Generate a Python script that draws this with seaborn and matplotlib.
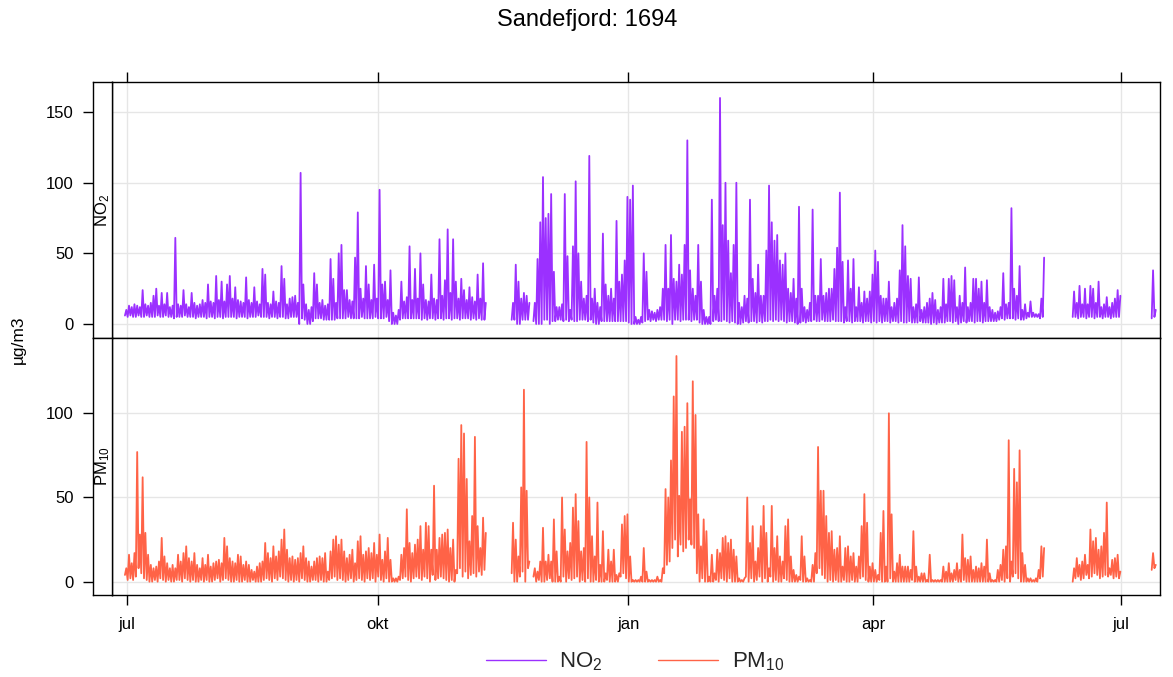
import numpy as np
import pandas as pd
import matplotlib
matplotlib.use("Agg")
import matplotlib.pyplot as plt
import seaborn as sns
from matplotlib.lines import Line2D

NA = np.nan

# ---------------- data (daily low / daily high) ----------------
title = "Sandefjord: 1694"
y_label = "µg/m3"
pollutants = ["NO$_2$", "PM$_{10}$"]
colours = ["#9B30FF", "#FF6347"]
first_day = "2020-06-30"
tick_dates = ["2020-07-01", "2020-10-01", "2021-01-01", "2021-04-01", "2021-07-01"]
tick_labels = ["jul", "okt", "jan", "apr", "jul"]
no2_ticks = [0, 50, 100, 150]
pm10_ticks = [0, 50, 100]

no2_max = [
    10, 13, 12, 14, 13, 12, 24, 14, 13, 15,
    20, 25, 13, 22, 14, 22, 12, 13, 61, 14,
    13, 24, 14, 12, 22, 15, 13, 14, 17, 15,
    28, 16, 15, 34, 17, 30, 16, 28, 34, 18,
    26, 17, 16, 15, 33, 17, 15, 26, 16, 14,
    39, 35, 15, 14, 23, 16, 15, 41, 32, 14,
    18, 19, 20, 15, 107, 28, 14, 10, 12, 36,
    28, 15, 17, 13, 14, 46, 32, 15, 50, 56,
    24, 24, 17, 16, 47, 79, 25, 18, 41, 28,
    17, 42, 18, 95, 28, 30, 17, 38, 8, 6,
    10, 30, 16, 19, 55, 17, 39, 18, 50, 28,
    17, 16, 35, 18, 17, 60, 20, 31, 67, 22,
    60, 30, 18, 32, 24, 17, 26, 19, 16, 35,
    18, 43, 15, NA, NA, NA, NA, NA, NA, NA,
    NA, NA, 15, 42, 30, 18, 22, 20, 15, NA,
    15, 46, 72, 104, 75, 78, 92, 37, 12, 12,
    14, 92, 48, 10, 55, 101, 50, 30, 18, 20,
    119, 18, 25, 15, 12, 64, 28, 20, 25, 18,
    73, 30, 35, 45, 90, 88, 98, 5, 3, 5,
    50, 37, 10, 9, 8, 10, 12, 25, 56, 25,
    63, 32, 30, 42, 35, 56, 130, 38, 25, 20,
    56, 30, 10, 5, 5, 88, 20, 25, 160, 70,
    100, 59, 36, 56, 100, 15, 12, 20, 18, 88,
    32, 22, 42, 20, 20, 52, 98, 72, 59, 63,
    45, 42, 50, 25, 22, 32, 18, 83, 25, 12,
    10, 15, 81, 20, 20, 46, 20, 22, 25, 25,
    39, 54, 93, 44, 12, 45, 25, 46, 12, 26,
    15, 23, 18, 23, 35, 52, 44, 20, 18, 18,
    30, 12, 15, 18, 38, 70, 55, 34, 32, 12,
    14, 33, 10, 12, 15, 18, 22, 17, 10, 12,
    32, 14, 32, 34, 31, 12, 20, 15, 40, 12,
    15, 32, 32, 25, 30, 15, 31, 12, 10, 8,
    9, 12, 36, 14, 15, 82, 25, 20, 41, 10,
    14, 8, 16, 8, 7, 7, 18, 47, NA, NA,
    NA, NA, NA, NA, NA, NA, NA, NA, 23, 15,
    27, 14, 25, 14, 27, 25, 15, 30, 12, 14,
    19, 12, 15, 18, 24, 20, NA, NA, NA, NA,
    NA, NA, NA, NA, NA, NA, NA, 38, 10,
]

no2_min = [
    6, 5, 6, 5, 5, 6, 5, 5, 6, 5,
    5, 5, 6, 5, 5, 6, 5, 5, 4, 5,
    5, 5, 6, 5, 5, 5, 4, 5, 5, 5,
    4, 5, 5, 4, 5, 5, 4, 5, 5, 5,
    5, 4, 5, 5, 5, 4, 5, 5, 5, 6,
    5, 5, 5, 4, 5, 5, 4, 5, 5, 4,
    4, 5, 5, 5, 0, 4, 3, 0, 0, 2,
    4, 4, 4, 3, 3, 3, 3, 3, 4, 4,
    4, 4, 5, 4, 4, 4, 4, 5, 4, 4,
    4, 4, 5, 4, 4, 4, 5, 2, 0, 0,
    0, 3, 4, 4, 4, 4, 4, 4, 4, 3,
    4, 3, 4, 4, 3, 4, 4, 3, 4, 4,
    3, 4, 4, 3, 4, 4, 4, 3, 4, 3,
    4, 3, 3, NA, NA, NA, NA, NA, NA, NA,
    NA, NA, 3, 3, 0, 0, 3, 3, 3, NA,
    2, 0, 0, 0, 3, 3, 0, 2, 2, 3,
    3, 2, 3, 2, 3, 2, 2, 3, 3, 3,
    2, 3, 1, 0, 0, 2, 2, 2, 2, 2,
    2, 2, 2, 2, 2, 1, 0, 0, 0, 0,
    1, 2, 3, 2, 3, 2, 3, 3, 3, 2,
    3, 0, 3, 3, 2, 3, 3, 3, 2, 3,
    3, 1, 0, 0, 0, 0, 2, 3, 2, 2,
    3, 2, 1, 2, 1, 0, 0, 1, 2, 1,
    2, 2, 1, 2, 1, 2, 2, 3, 2, 3,
    2, 3, 2, 1, 2, 2, 1, 0, 1, 2,
    1, 2, 2, 3, 2, 2, 3, 2, 2, 2,
    3, 2, 2, 2, 1, 2, 2, 1, 2, 2,
    2, 1, 2, 2, 1, 2, 1, 2, 1, 2,
    2, 1, 2, 2, 1, 2, 1, 1, 2, 1,
    1, 1, 2, 1, 1, 1, 0, 1, 0, 1,
    1, 1, 2, 2, 1, 2, 0, 1, 2, 1,
    2, 2, 1, 2, 2, 1, 2, 2, 2, 2,
    2, 3, 4, 3, 4, 4, 4, 3, 4, 3,
    3, 4, 5, 5, 5, 5, 4, 5, NA, NA,
    NA, NA, NA, NA, NA, NA, NA, NA, 5, 5,
    4, 5, 5, 4, 5, 5, 4, 5, 5, 4,
    5, 5, 4, 5, 5, 5, NA, NA, NA, NA,
    NA, NA, NA, NA, NA, NA, NA, 4, 5,
]

pm10_max = [
    8, 16, 11, 17, 77, 28, 62, 29, 16, 10,
    8, 9, 12, 26, 15, 11, 8, 10, 8, 16,
    12, 17, 21, 14, 12, 17, 10, 8, 14, 10,
    16, 9, 11, 12, 13, 11, 26, 21, 14, 12,
    11, 16, 15, 10, 12, 10, 7, 6, 9, 11,
    12, 23, 17, 14, 21, 15, 18, 25, 31, 19,
    14, 15, 13, 14, 17, 21, 14, 12, 9, 12,
    14, 15, 14, 17, 6, 18, 25, 27, 22, 25,
    18, 14, 16, 19, 11, 24, 27, 16, 18, 20,
    17, 23, 16, 28, 13, 18, 26, 13, 2, 2,
    3, 16, 20, 43, 23, 17, 22, 25, 33, 19,
    35, 33, 19, 57, 19, 26, 28, 29, 31, 20,
    25, 7, 73, 93, 88, 61, 24, 39, 86, 33,
    20, 38, 29, NA, NA, NA, NA, NA, NA, NA,
    NA, NA, 35, 25, 15, 56, 114, 54, 12, NA,
    8, 6, 12, 32, 12, 16, 12, 37, 18, 3,
    50, 31, 18, 23, 44, 52, 36, 18, 20, 83,
    50, 27, 15, 47, 10, 30, 5, 19, 12, 19,
    4, 5, 34, 39, 40, 15, 1, 1, 1, 3,
    20, 6, 1, 1, 1, 3, 1, 8, 55, 50,
    72, 110, 134, 51, 89, 92, 106, 49, 119, 99,
    40, 21, 37, 30, 3, 16, 5, 19, 17, 26,
    27, 23, 25, 19, 15, 2, 1, 2, 50, 23,
    33, 12, 20, 33, 45, 29, 8, 45, 20, 27,
    15, 12, 33, 37, 15, 7, 4, 3, 27, 15,
    2, 1, 10, 17, 80, 54, 54, 39, 29, 30,
    19, 20, 27, 9, 20, 21, 15, 17, 9, 15,
    33, 52, 35, 9, 11, 7, 4, 29, 42, 9,
    100, 40, 6, 11, 16, 9, 9, 9, 7, 30,
    9, 3, 5, 5, 1, 16, 1, 1, 1, 1,
    9, 6, 11, 5, 7, 11, 7, 28, 14, 13,
    15, 7, 9, 8, 11, 9, 25, 5, 1, 1,
    7, 10, 19, 21, 84, 12, 67, 59, 78, 17,
    10, 2, 2, 1, 2, 7, 21, 20, NA, NA,
    NA, NA, NA, NA, NA, NA, NA, NA, 8, 14,
    10, 12, 16, 10, 31, 24, 26, 19, 21, 29,
    47, 8, 13, 14, 16, 6, NA, NA, NA, NA,
    NA, NA, NA, NA, NA, NA, NA, 17, 10,
]

pm10_min = [
    4, 1, 2, 1, 3, 8, 5, 2, 1, 0,
    0, 1, 0, 2, 1, 0, 1, 0, 0, 1,
    1, 0, 2, 1, 0, 1, 0, 0, 1, 0,
    1, 0, 0, 1, 2, 0, 1, 2, 1, 0,
    0, 1, 0, 0, 1, 0, 0, 1, 0, 0,
    0, 1, 2, 1, 0, 2, 1, 3, 2, 1,
    0, 1, 0, 1, 0, 2, 1, 0, 0, 1,
    1, 0, 1, 0, 0, 1, 2, 3, 1, 2,
    1, 0, 1, 2, 0, 1, 2, 1, 0, 2,
    1, 2, 0, 3, 1, 0, 2, 0, 0, 0,
    0, 1, 2, 3, 1, 0, 2, 3, 2, 1,
    3, 2, 0, 4, 1, 2, 3, 2, 1, 0,
    1, 0, 5, 8, 3, 6, 2, 4, 5, 3,
    6, 4, 7, NA, NA, NA, NA, NA, NA, NA,
    NA, NA, 5, 0, 0, 3, 6, 0, 8, NA,
    3, 0, 1, 0, 0, 1, 2, 0, 0, 0,
    0, 3, 0, 2, 1, 2, 3, 0, 1, 0,
    2, 0, 0, 1, 0, 0, 0, 1, 0, 0,
    0, 0, 3, 5, 2, 0, 0, 0, 0, 0,
    0, 0, 0, 0, 0, 0, 0, 0, 5, 10,
    12, 20, 25, 15, 22, 18, 20, 25, 22, 20,
    5, 0, 2, 0, 0, 0, 0, 1, 0, 2,
    1, 0, 2, 0, 0, 0, 0, 0, 3, 0,
    2, 0, 1, 3, 0, 2, 0, 3, 0, 1,
    0, 0, 2, 1, 0, 0, 0, 0, 1, 0,
    0, 0, 0, 0, 5, 8, 4, 2, 0, 1,
    0, 1, 0, 0, 1, 0, 0, 1, 0, 0,
    2, 3, 1, 0, 0, 0, 0, 1, 0, 0,
    0, 2, 0, 0, 0, 0, 0, 0, 0, 1,
    0, 0, 0, 0, 0, 0, 0, 0, 0, 0,
    0, 0, 0, 0, 0, 1, 0, 0, 1, 0,
    0, 0, 0, 0, 0, 0, 0, 0, 0, 0,
    0, 0, 1, 0, 2, 0, 3, 5, 2, 0,
    0, 0, 0, 0, 0, 0, 2, 3, NA, NA,
    NA, NA, NA, NA, NA, NA, NA, NA, 0, 2,
    3, 1, 2, 4, 2, 3, 5, 4, 2, 3,
    4, 3, 4, 2, 3, 2, NA, NA, NA, NA,
    NA, NA, NA, NA, NA, NA, NA, 7, 8,
]

# ---------------- build long table ----------------
start = pd.Timestamp(first_day)
rows = []
for name, hi_list, lo_list in [(pollutants[0], no2_max, no2_min),
                               (pollutants[1], pm10_max, pm10_min)]:
    seg = 0
    for i, (hi, lo) in enumerate(zip(hi_list, lo_list)):
        if np.isnan(hi) or np.isnan(lo):
            seg += 1
            continue
        day = start + pd.Timedelta(days=i)
        rows.append((name, seg, day + pd.Timedelta(hours=6), lo))
        rows.append((name, seg, day + pd.Timedelta(hours=18), hi))
df = pd.DataFrame(rows, columns=["pollutant", "seg", "time", "value"])

# ---------------- figure ----------------
sns.set_theme(style="white")
plt.rcParams["font.family"] = ["Liberation Sans", "DejaVu Sans"]
plt.rcParams["mathtext.default"] = "regular"

W, H = 1173, 677
fig = plt.figure(figsize=(W / 100, H / 100), dpi=100)

def fx(px):
    return px / W

def fy(px):
    return 1 - px / H

L, R, S = 112, 1160, 93
T1, M, B2 = 82, 338, 595
ax1 = fig.add_axes([fx(L), fy(M), fx(R - L), (M - T1) / H])
ax2 = fig.add_axes([fx(L), fy(B2), fx(R - L), (B2 - M) / H], sharex=ax1)
s1 = fig.add_axes([fx(S), fy(M), fx(L - S), (M - T1) / H], sharey=ax1)
s2 = fig.add_axes([fx(S), fy(B2), fx(L - S), (B2 - M) / H], sharey=ax2)

for ax, name, col in [(ax1, pollutants[0], colours[0]), (ax2, pollutants[1], colours[1])]:
    sub = df[df["pollutant"] == name]
    sns.lineplot(data=sub, x="time", y="value", units="seg", estimator=None,
                 color=col, linewidth=1.3, ax=ax, legend=False)
    ax.set_xlabel("")
    ax.set_ylabel("")

ax1.set_ylim(-9.9, 171.3)
ax2.set_ylim(-7.9, 144.7)
ax1.set_yticks(no2_ticks)
ax2.set_yticks(pm10_ticks)

xt = [pd.Timestamp(d) for d in tick_dates]
ax1.set_xlim(pd.Timestamp("2020-07-01") - pd.Timedelta(days=5.5),
             pd.Timestamp("2021-07-01") + pd.Timedelta(days=14.3))
ax1.set_xticks(xt)
ax2.set_xticklabels(tick_labels, family=["Liberation Sans Narrow", "Liberation Sans"])

for ax in (ax1, ax2):
    ax.grid(True, color="#e6e6e6", linewidth=1)
    ax.set_axisbelow(True)
    ax.tick_params(axis="y", left=False, labelleft=False)
    for sp in ax.spines.values():
        sp.set_color("black")
        sp.set_linewidth(1)

ax1.tick_params(axis="x", top=True, bottom=False, labeltop=False, labelbottom=False,
                direction="out", length=7, width=1, color="black")
ax2.tick_params(axis="x", top=False, bottom=True, labelbottom=True,
                direction="out", length=7, width=1, color="black", pad=9,
                labelsize=12, labelcolor="black")

for s, name in [(s1, pollutants[0]), (s2, pollutants[1])]:
    s.set_xticks([])
    s.grid(False)
    s.tick_params(axis="y", left=True, labelleft=True, direction="out", length=7,
                  width=1, color="black", pad=7, labelsize=12, labelcolor="black")
    for sp in s.spines.values():
        sp.set_color("black")
        sp.set_linewidth(1)
    s.text(0.5, 0.5, name, rotation=90, transform=s.transAxes, ha="center",
           va="center", fontsize=12, color="black")

fig.text(0.501, fy(20), title, ha="center", va="center", fontsize=17, color="black")
fig.text(fx(18), fy(340), y_label, rotation=90, ha="center", va="center",
         fontsize=12.5, color="black")

handles = [Line2D([0], [0], color=c, lw=1) for c in colours]
fig.legend(handles, pollutants, loc="center", bbox_to_anchor=(fx(635), fy(662)),
           ncol=2, frameon=False, fontsize=16, handlelength=2.7,
           columnspacing=2.5, handletextpad=0.6)

fig.savefig("out.png", dpi=100)
